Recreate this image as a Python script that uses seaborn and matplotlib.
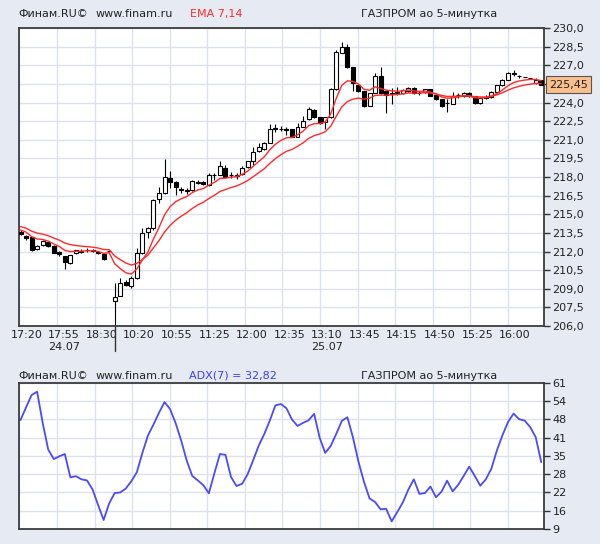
import numpy as np
import pandas as pd
import matplotlib.pyplot as plt
import seaborn as sns

# 5-minute candles, GAZPROM: first 17 on 24.07, the rest on 25.07
opens = [213.6, 213.25, 213.15, 212.2, 212.5, 212.75, 212.45, 211.95, 211.6, 211.1,
         211.85, 212.0, 212.1, 212.1, 212.0, 211.8, 212.05,
         208.05, 208.45, 209.55, 209.25, 209.85, 211.85, 213.55, 213.9, 216.2,
         216.75, 217.9, 217.6, 217.0, 216.9, 216.95, 217.55, 217.6, 217.35, 218.15,
         218.2, 218.7, 218.2, 218.1, 218.25, 218.8, 219.3, 220.1, 220.25, 220.75,
         221.9, 221.9, 221.85, 221.85, 221.25, 222.05, 222.65, 223.4, 222.8, 222.4,
         222.8, 225.05, 228.0, 228.5, 226.85, 225.4, 224.9, 223.75, 224.8, 226.1,
         224.95, 224.7, 224.8, 224.75, 224.9, 225.2, 224.75, 224.85, 225.05, 224.6,
         224.25, 223.95, 223.9, 224.6, 224.5, 224.8, 224.5, 223.95, 224.4, 224.45,
         224.85, 225.4, 225.85, 226.3, 226.1, 226.05, 226.0, 225.6, 225.8]
highs = [213.7, 213.3, 213.2, 212.5, 212.9, 212.8, 212.5, 212.05, 211.65, 211.75,
         212.15, 212.2, 212.3, 212.2, 212.05, 211.85, 212.05,
         209.45, 209.85, 209.7, 210.0, 212.25, 213.9, 214.0, 216.25, 217.2,
         219.45, 218.45, 217.65, 217.2, 217.1, 217.75, 217.75, 217.65, 218.3, 218.35,
         219.3, 219.0, 218.4, 218.35, 218.85, 219.3, 220.4, 220.7, 220.8, 222.3,
         222.3, 222.1, 222.0, 221.9, 222.35, 222.9, 223.65, 223.45, 222.85, 222.85,
         225.2, 228.2, 228.9, 228.7, 226.9, 225.45, 224.95, 224.8, 226.4, 226.85,
         225.0, 225.2, 225.25, 225.05, 225.25, 225.25, 224.9, 225.1, 225.1, 224.65,
         224.3, 224.3, 224.85, 224.8, 224.85, 224.85, 224.55, 224.4, 224.6, 224.9,
         225.45, 225.9, 226.45, 226.65, 226.25, 226.05, 226.0, 225.95, 225.85]
lows = [213.35, 212.95, 212.05, 212.15, 212.45, 212.4, 211.85, 211.6, 210.6, 211.0,
        211.8, 211.9, 212.0, 211.95, 211.8, 211.35, 212.05,
        205.5, 208.4, 209.2, 209.1, 209.75, 211.8, 213.05, 213.7, 215.9,
        216.65, 217.1, 216.55, 216.7, 216.65, 216.9, 217.4, 217.35, 217.3, 217.8,
        218.15, 217.95, 217.9, 217.85, 218.2, 218.75, 219.0, 220.05, 220.2, 220.7,
        221.6, 221.7, 221.35, 221.2, 221.2, 222.0, 222.6, 222.75, 222.3, 221.85,
        222.75, 225.0, 227.95, 226.8, 224.9, 224.85, 223.6, 223.7, 224.75, 224.7,
        223.15, 223.85, 224.6, 224.7, 224.85, 224.7, 224.6, 224.8, 224.5, 224.2,
        223.6, 223.25, 223.85, 224.4, 224.45, 224.45, 223.85, 223.9, 224.3, 224.4,
        224.8, 225.35, 225.8, 226.1, 225.95, 226.05, 226.0, 225.5, 225.4]
closes = [213.4, 213.05, 212.1, 212.45, 212.85, 212.45, 211.9, 211.8, 211.15, 211.7,
          212.1, 212.05, 212.15, 212.05, 211.85, 211.4, 212.05,
          208.35, 209.45, 209.3, 209.85, 211.85, 213.5, 213.9, 216.15, 216.7,
          218.0, 217.6, 217.2, 216.95, 216.95, 217.7, 217.6, 217.4, 218.2, 218.2,
          218.85, 218.0, 218.2, 218.15, 218.75, 219.25, 220.05, 220.4, 220.75, 221.9,
          221.95, 221.9, 221.8, 221.25, 222.05, 222.55, 223.45, 222.8, 222.35, 222.8,
          225.05, 228.1, 228.5, 226.85, 225.55, 224.9, 223.75, 224.75, 226.1, 224.75,
          224.6, 224.75, 224.85, 225.0, 225.2, 224.75, 224.75, 225.05, 224.55, 224.25,
          223.75, 224.0, 224.5, 224.6, 224.8, 224.5, 223.95, 224.35, 224.45, 224.85,
          225.4, 225.85, 226.4, 226.35, 226.1, 226.05, 226.0, 225.85, 225.45]
# EMA values just before the first visible candle
ema_seed = {7: 213.85, 14: 214.1}

adx = [47.8, 52.3, 56.7, 57.9, 46.8, 37.3, 33.9, 34.9, 35.7, 27.4,
       27.8, 26.7, 26.3, 23.1, 17.6, 12.2, 18.1, 21.8, 22.0, 23.4,
       26.0, 29.2, 36.1, 42.3, 46.2, 50.4, 54.2, 51.7, 46.7, 40.5,
       33.4, 27.9, 26.3, 24.6, 21.7, 28.9, 35.7, 35.4, 27.5, 24.3,
       25.1, 28.5, 33.5, 38.7, 42.8, 47.6, 53.0, 53.5, 52.0, 48.0,
       45.7, 46.8, 47.7, 50.0, 41.5, 36.1, 38.6, 42.9, 47.5, 48.8,
       41.7, 33.0, 25.8, 19.9, 18.6, 16.0, 16.2, 11.7, 15.0, 18.4,
       23.0, 26.7, 21.5, 21.8, 24.1, 20.3, 22.3, 26.2, 22.4, 24.7,
       27.9, 31.2, 27.9, 24.4, 26.7, 30.5, 37.0, 42.4, 47.1, 50.1,
       48.1, 47.6, 45.3, 41.7, 32.8]

time_labels = ["17:20", "17:55\n24.07", "18:30", "10:20", "10:55", "11:25", "12:00",
               "12:35", "13:10\n25.07", "13:45", "14:15", "14:50", "15:25", "16:00"]
day2_start = 17
last_price = 225.45
adx_ticks = [9, 15.5, 22, 28.5, 35, 41.5, 48, 54.5, 61]
adx_labels = ["9", "16", "22", "28", "35", "41", "48", "54", "61"]

bg = "#e6eaf2"
grid_c = "#dbe2ee"
frame_c = "#3c3c3c"

sns.set_style("white")
plt.rcParams["font.family"] = ["DejaVu Sans"]

fig = plt.figure(figsize=(6, 5.44), dpi=100, facecolor=bg)
ax1 = fig.add_axes([0.0317, 0.4007, 0.875, 0.5478])
ax2 = fig.add_axes([0.0317, 0.0276, 0.875, 0.2684])

x = np.arange(len(closes))
o = np.array(opens)
c = np.array(closes)
xlim = (-0.27, 94.5)
grid_x = [-0.2 + 6.783 * k for k in range(len(time_labels))]
label_x = [g + 1.25 for g in grid_x]

# --- price panel ---
for n in (14, 7):
    ema = pd.Series([ema_seed[n]] + closes).ewm(span=n, adjust=False).mean().iloc[1:]
    sns.lineplot(x=x, y=ema.values, ax=ax1, color="#ff2a2a", lw=1.0, zorder=4)

ax1.vlines(x, lows, highs, color="black", lw=0.8, zorder=2)
ax1.bar(x, c - o, bottom=o, width=0.72,
        color=np.where(c >= o, "white", "black"), edgecolor="black", lw=0.8, zorder=3)

ax1.set_xlim(*xlim)
ax1.set_ylim(206, 230)
price_ticks = np.arange(206, 230.01, 1.5)
ax1.set_yticks(price_ticks)
ax1.set_yticklabels(["" if abs(v - 225.5) < 0.01 else f"{v:.1f}".replace(".", ",")
                     for v in price_ticks])
ax1.yaxis.tick_right()
ax1.set_xticks(grid_x)
ax1.set_xticklabels([])
ax1.set_xticks(label_x, time_labels, minor=True)
ax1.tick_params(axis="x", which="both", length=0, pad=3, labelsize=8, labelcolor="#222")
ax1.plot([day2_start, day2_start], [0, -0.085], transform=ax1.get_xaxis_transform(),
         color="#333", lw=1, clip_on=False)
ax1.annotate(f"{last_price:.2f}".replace(".", ","), xy=(1, last_price),
             xycoords=("axes fraction", "data"), xytext=(3.5, 0), textcoords="offset points",
             ha="left", va="center", fontsize=8, color="#222", zorder=10,
             bbox=dict(boxstyle="square,pad=0.3", fc="#fbbf8c", ec="#555", lw=0.8))

# --- ADX panel ---
sns.lineplot(x=x, y=adx, ax=ax2, color="#4a4aff", lw=1.3)
ax2.set_xlim(*xlim)
ax2.set_ylim(9, 61)
ax2.set_yticks(adx_ticks)
ax2.set_yticklabels(adx_labels)
ax2.yaxis.tick_right()
ax2.set_xticks(grid_x)
ax2.set_xticklabels([])
ax2.tick_params(axis="x", length=0)

for ax in (ax1, ax2):
    ax.set_facecolor("white")
    ax.set_xlabel("")
    ax.set_ylabel("")
    ax.grid(True, which="major", color=grid_c, lw=1)
    ax.set_axisbelow(True)
    ax.tick_params(axis="y", length=4, width=1, color="#333", direction="out",
                   pad=2, labelsize=8, labelcolor="#222")
    for s in ax.spines.values():
        s.set_color(frame_c)
        s.set_linewidth(1.3)

# headers
for y in (1 - 14 / 544, 1 - 376 / 544):
    fig.text(18.5 / 600, y, "Финам.RU©", fontsize=8, color="#222", va="center")
    fig.text(96 / 600, y, "www.finam.ru", fontsize=8, color="#222", va="center")
    fig.text(361 / 600, y, "ГАЗПРОМ ао 5-минутка", fontsize=8, color="#222", va="center")
fig.text(190 / 600, 1 - 14 / 544, "EMA 7,14", fontsize=8, color="#ff2a2a", va="center")
fig.text(189 / 600, 1 - 376 / 544, "ADX(7) = 32,82", fontsize=8, color="#3c3cff", va="center")

fig.savefig("out.png", dpi=100, facecolor=bg)
